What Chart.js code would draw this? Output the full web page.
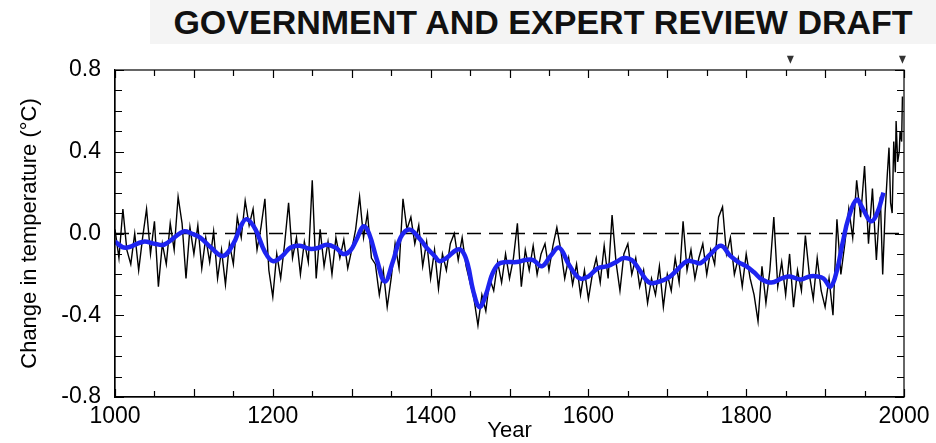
<!DOCTYPE html>
<html><head><meta charset="utf-8">
<script src="https://cdn.jsdelivr.net/npm/chart.js@4"></script>
<style>
html,body{margin:0;padding:0;background:#fff;}
#wrap{position:relative;width:936px;height:443px;}
#title{position:absolute;left:150px;top:0;width:786px;height:44px;background:#f4f4f4;
 font-family:"Liberation Sans",Arial,sans-serif;font-weight:bold;font-size:34px;line-height:44px;text-align:center;color:#111;letter-spacing:0px;}
canvas{position:absolute;left:0;top:0;}
</style>
</head><body>
<div id="wrap">
<div id="title">GOVERNMENT AND EXPERT REVIEW DRAFT</div>
<canvas id="c" width="936" height="443"></canvas>
</div>
<script>
// Reconstructed temperature anomaly (black)
const reconYears = [1000,1005,1010,1015,1020,1025,1030,1035,1040,1045,1050,1055,1060,1065,1070,1075,1080,1085,1090,1095,
1100,1105,1110,1115,1120,1125,1130,1135,1140,1145,1150,1155,1160,1165,1170,1175,1180,1185,1190,1195,
1200,1205,1210,1215,1220,1225,1230,1235,1240,1245,1250,1255,1260,1265,1270,1275,1280,1285,1290,1295,
1300,1305,1310,1315,1320,1325,1330,1335,1340,1345,1350,1355,1360,1365,1370,1375,1380,1385,1390,1395,
1400,1405,1410,1415,1420,1425,1430,1435,1440,1445,1450,1455,1460,1465,1470,1475,1480,1485,1490,1495,
1500,1505,1510,1515,1520,1525,1530,1535,1540,1545,1550,1555,1560,1565,1570,1575,1580,1585,1590,1595,
1600,1605,1610,1615,1620,1625,1630,1635,1640,1645,1650,1655,1660,1665,1670,1675,1680,1685,1690,1695,
1700,1705,1710,1715,1720,1725,1730,1735,1740,1745,1750,1755,1760,1765,1770,1775,1780,1785,1790,1795,
1800,1805,1810,1815,1820,1825,1830,1835,1840,1845,1850,1855,1860,1865,1870,1875,1880,1885,1890,1895,
1900,1905,1910,1915,1920,1925,1930,1935,1940,1945,1950,1955,1960,1965,1970,1973,1976,1979,1981,1983,
1985,1987,1989,1990,1992,1994,1995,1997,1998];
const reconValues = [0.02,-0.12,0.12,-0.08,-0.15,0.00,-0.18,-0.02,0.12,-0.10,0.06,-0.26,-0.05,-0.15,0.05,-0.08,0.18,0.05,-0.22,0.03,
-0.10,0.04,-0.17,-0.02,-0.14,0.01,-0.22,-0.08,-0.25,-0.05,-0.15,0.08,-0.02,0.16,0.04,0.12,-0.08,0.03,0.17,-0.18,
-0.31,-0.10,-0.22,-0.05,0.15,-0.12,-0.02,-0.20,-0.04,-0.14,0.26,-0.22,0.02,-0.16,-0.04,-0.20,-0.02,-0.12,-0.03,-0.17,
-0.08,0.02,0.18,-0.02,0.10,-0.12,-0.15,-0.30,-0.18,-0.36,-0.22,-0.05,-0.17,0.17,0.02,0.08,-0.05,0.04,-0.16,-0.04,
-0.22,-0.08,-0.27,-0.10,-0.18,-0.05,0.00,-0.13,-0.02,-0.16,-0.24,-0.32,-0.45,-0.30,-0.38,-0.22,-0.28,-0.14,-0.24,-0.10,
-0.22,-0.12,0.05,-0.26,-0.08,-0.18,-0.06,-0.20,-0.10,-0.05,-0.18,-0.06,0.03,-0.08,-0.22,-0.12,-0.25,-0.15,-0.30,-0.18,
-0.32,-0.20,-0.12,-0.24,-0.06,-0.22,0.09,-0.14,-0.28,-0.10,-0.05,-0.20,-0.12,-0.26,-0.18,-0.34,-0.22,-0.30,-0.16,-0.36,
-0.20,-0.28,-0.12,-0.24,0.06,-0.18,-0.08,-0.22,-0.12,-0.05,-0.20,-0.08,-0.15,0.08,0.13,-0.10,-0.02,-0.20,-0.12,-0.26,
-0.10,-0.22,-0.30,-0.43,-0.16,-0.34,-0.18,0.08,-0.26,-0.14,-0.30,-0.10,-0.36,-0.18,-0.28,-0.01,-0.20,-0.32,-0.12,-0.28,
-0.36,-0.22,-0.40,0.07,-0.20,-0.05,0.12,-0.02,0.26,0.08,0.33,-0.05,0.22,-0.13,0.18,-0.20,0.10,0.30,0.42,0.15,
0.10,0.45,0.30,0.55,0.35,0.40,0.50,0.45,0.67];

// Smoothed curve (blue)
const smoothYears = [1000,1013,1036,1050,1062,1075,1087,1097,1108,1122,1137,1150,1160,1167,1178,1190,1200,1212,1222,1234,
1247,1258,1268,1280,1289,1298,1306,1315,1322,1332,1342,1352,1362,1373,1385,1395,1405,1411,1420,1433,
1440,1447,1454,1462,1470,1478,1486,1495,1509,1520,1530,1541,1552,1563,1575,1589,1600,1612,1624,1635,
1645,1655,1665,1677,1690,1702,1712,1725,1735,1742,1755,1768,1780,1790,1800,1810,1820,1832,1845,1855,
1869,1880,1890,1898,1907,1915,1922,1930,1940,1948,1958,1966,1974];
const smoothValues = [-0.04,-0.07,-0.04,-0.05,-0.055,-0.02,0.01,0.0,-0.02,-0.07,-0.11,-0.05,0.04,0.07,0.02,-0.09,-0.135,-0.11,-0.07,-0.06,
-0.075,-0.07,-0.055,-0.07,-0.10,-0.085,-0.03,0.035,0.0,-0.13,-0.235,-0.14,-0.02,0.02,-0.02,-0.07,-0.11,-0.135,-0.12,-0.08,
-0.085,-0.15,-0.28,-0.36,-0.30,-0.20,-0.15,-0.14,-0.14,-0.13,-0.13,-0.16,-0.11,-0.07,-0.15,-0.22,-0.21,-0.17,-0.16,-0.14,
-0.12,-0.13,-0.18,-0.24,-0.235,-0.215,-0.18,-0.135,-0.14,-0.145,-0.10,-0.06,-0.11,-0.14,-0.16,-0.19,-0.225,-0.24,-0.22,-0.21,
-0.225,-0.21,-0.21,-0.22,-0.26,-0.18,-0.05,0.08,0.165,0.12,0.06,0.10,0.20];

const markerYears = [1856, 1998];
const markerLevel = 0.85;
const xTickLabels = [1000,1200,1400,1600,1800,2000];
const yTickLabels = [-0.8,-0.4,0.0,0.4,0.8];

const recon = reconYears.map((y,i)=>({x:y,y:reconValues[i]}));
const smooth = smoothYears.map((y,i)=>({x:y,y:smoothValues[i]}));
const zeroLine = [{x:xTickLabels[0],y:0},{x:xTickLabels[xTickLabels.length-1],y:0}];

const FONT = "'Liberation Sans', Arial, sans-serif";

const frameTicks = {
  id:'frameTicks',
  afterDraw(chart){
    const {ctx, chartArea:a, scales:{x,y}} = chart;
    ctx.save();
    ctx.strokeStyle = '#000';
    ctx.lineWidth = 1.2;
    ctx.strokeRect(a.left, a.top, a.right-a.left, a.bottom-a.top);
    ctx.beginPath();
    for (let v = 1000; v <= 2000; v += 50) {
      const px = Math.round(x.getPixelForValue(v)) + 0.5;
      const len = (v % 100 === 0) ? 8 : 6;
      ctx.moveTo(px, a.bottom); ctx.lineTo(px, a.bottom - len);
      ctx.moveTo(px, a.top); ctx.lineTo(px, a.top + len);
    }
    for (let k = -8; k <= 8; k++) {
      const v = k/10;
      const py = Math.round(y.getPixelForValue(v)) + 0.5;
      const len = (k % 4 === 0) ? 9 : 7;
      ctx.moveTo(a.left, py); ctx.lineTo(a.left + len, py);
      ctx.moveTo(a.right, py); ctx.lineTo(a.right - len, py);
    }
    ctx.stroke();
    // period markers above the frame, placed through the scales
    ctx.fillStyle = '#333';
    markerYears.forEach(yr=>{
      const px = x.getPixelForValue(yr);
      const py = y.getPixelForValue(markerLevel);
      ctx.beginPath();
      ctx.moveTo(px-3.5, py-4);
      ctx.lineTo(px+3.5, py-4);
      ctx.lineTo(px, py+4);
      ctx.closePath();
      ctx.fill();
    });
    ctx.restore();
  }
};

new Chart(document.getElementById('c'), {
  type:'line',
  data:{datasets:[
    {label:'smoothed', data:smooth, borderColor:'rgb(30,36,240)', borderWidth:4.5, pointRadius:0, tension:0.4, order:1},
    {label:'zero', data:zeroLine, borderColor:'#000', borderWidth:1.3, borderDash:[14,8], pointRadius:0, order:2},
    {label:'reconstruction', data:recon, borderColor:'#000', borderWidth:1.4, pointRadius:0, tension:0, order:3}
  ]},
  options:{
    responsive:false, animation:false,
    layout:{padding:{top:70,right:32,left:0,bottom:0}},
    plugins:{legend:{display:false}, title:{display:false}, tooltip:{enabled:false}},
    scales:{
      x:{type:'linear', min:1000, max:2000,
        grid:{display:false, drawTicks:false},
        border:{display:true, color:'#000', width:1.2},
        ticks:{stepSize:200, padding:6, color:'#000', font:{family:FONT, size:23}, maxRotation:0,
          callback:v=>xTickLabels.includes(v)?String(v):''},
        title:{display:true, text:'Year', color:'#000', font:{family:FONT, size:22}, padding:{top:0,bottom:-1}},
        afterFit:s=>{s.height=46;}
      },
      y:{type:'linear', min:-0.8, max:0.8,
        grid:{display:false, drawTicks:false},
        border:{display:true, color:'#000', width:1.2},
        ticks:{stepSize:0.4, padding:14, color:'#000', font:{family:FONT, size:23},
          callback:v=>{const r=Math.round(v*10)/10; return yTickLabels.includes(r)?r.toFixed(1):'';}},
        title:{display:true, text:'Change in temperature (\u00B0C)', color:'#000', font:{family:FONT, size:22}, padding:{top:17,bottom:0}},
        afterFit:s=>{s.width=115;}
      }
    }
  },
  plugins:[frameTicks]
});
</script>
</body></html>
